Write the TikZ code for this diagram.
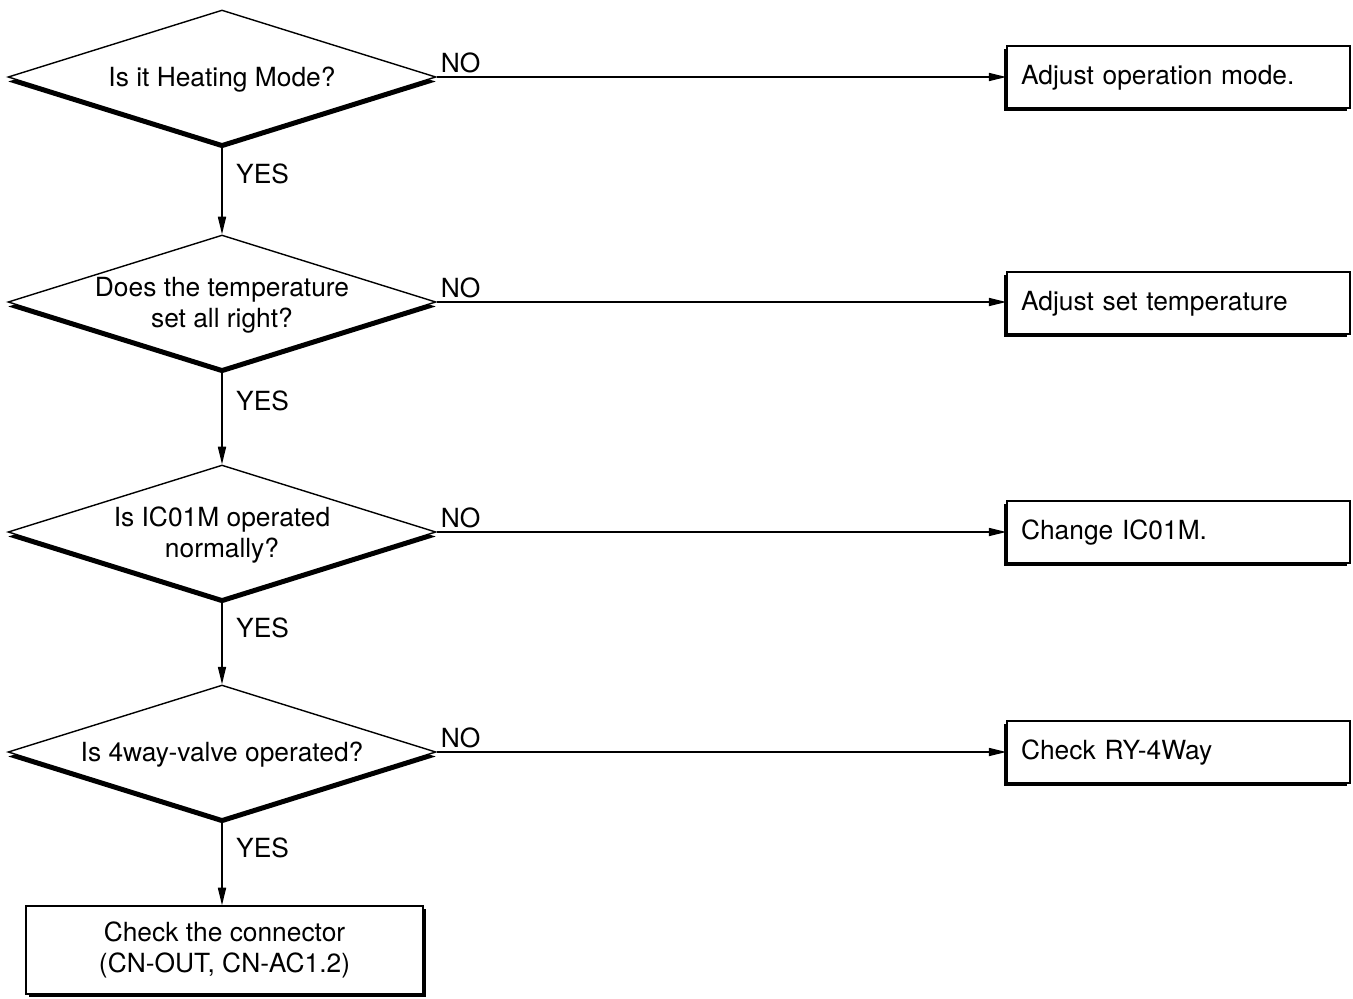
\documentclass[tikz,border=0pt]{standalone}
\usepackage{fontspec}
\setmainfont{TeX Gyre Heros}
\usepackage{tikz}
\usetikzlibrary{shapes.geometric, arrows.meta, positioning, shadows}

\tikzset{
    base/.style={font=\fontsize{15}{17.6}\selectfont, line width=0.8pt},
    question/.style={base, align=center, yshift=-0.06cm},
    decision/.style={base, diamond, draw, fill=white, inner sep=0pt,
        minimum width=8.56cm, minimum height=2.68cm,
        drop shadow={shadow xshift=0cm, shadow yshift=-0.09cm, fill=black, opacity=1}},
    action/.style={base, rectangle, draw, fill=white, minimum width=6.86cm, minimum height=1.24cm,
        text width=6.3cm, align=left, inner xsep=0.28cm, text depth=0.1cm,
        drop shadow={shadow xshift=-0.06cm, shadow yshift=-0.06cm, fill=black, opacity=1}},
    final/.style={base, rectangle, draw, fill=white, minimum width=7.94cm, minimum height=1.76cm,
        align=center,
        drop shadow={shadow xshift=0.06cm, shadow yshift=-0.06cm, fill=black, opacity=1}},
    arrow/.style={base, -{Triangle[length=10pt, width=4.6pt]}},
    answer/.style={base, inner sep=2pt}
}

\begin{document}
\begin{tikzpicture}[x=0.02cm, y=-0.02cm]
    \useasboundingbox (0,0) rectangle (1353,998);

    % questions
    \node[decision, label={[question]center:Is it Heating Mode?}] (heat) at (222,77) {};
    \node[decision, label={[question]center:Does the temperature\\set all right?}] (temp) at (222,302) {};
    \node[decision, label={[question]center:Is IC01M operated\\normally?}] (icm) at (222,532) {};
    \node[decision, label={[question]center:Is 4way-valve operated?}] (valve) at (222,752) {};

    % actions
    \node[action] (mode) at (1178.5,77) {Adjust operation mode.};
    \node[action] (settemp) at (1178.5,303) {Adjust set temperature};
    \node[action] (change) at (1178.5,532) {Change IC01M.};
    \node[action] (relay) at (1178.5,752) {Check RY-4Way};
    \node[final] (conn) at (224.5,950) {Check the connector\\(CN-OUT, CN-AC1.2)};

    % NO branches
    \draw[arrow] (heat.east) -- node[answer, pos=0, anchor=south west]{NO} (mode.west |- heat.east);
    \draw[arrow] (temp.east) -- node[answer, pos=0, anchor=south west]{NO} (settemp.west |- temp.east);
    \draw[arrow] (icm.east) -- node[answer, pos=0, anchor=south west]{NO} (change.west |- icm.east);
    \draw[arrow] (valve.east) -- node[answer, pos=0, anchor=south west]{NO} (relay.west |- valve.east);

    % YES branches
    \draw[arrow] (heat.south) -- node[answer, pos=0.33, anchor=west, xshift=0.2cm]{YES} (temp.north);
    \draw[arrow] (temp.south) -- node[answer, pos=0.33, anchor=west, xshift=0.2cm]{YES} (icm.north);
    \draw[arrow] (icm.south) -- node[answer, pos=0.33, anchor=west, xshift=0.2cm]{YES} (valve.north);
    \draw[arrow] (valve.south) -- node[answer, pos=0.33, anchor=west, xshift=0.2cm]{YES} (valve.south |- conn.north);
\end{tikzpicture}
\end{document}
